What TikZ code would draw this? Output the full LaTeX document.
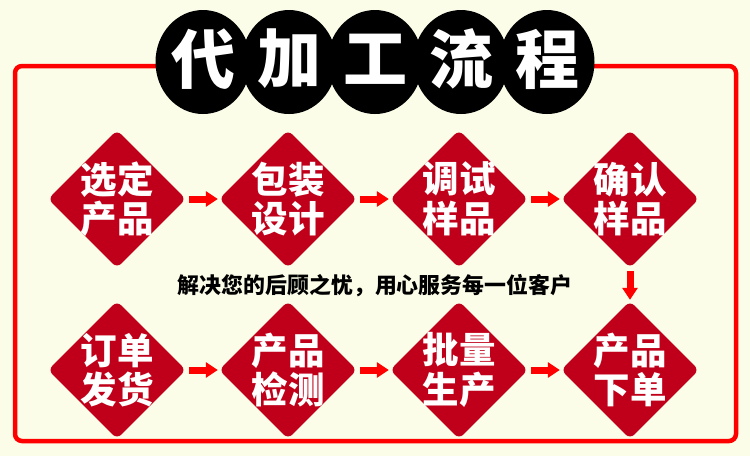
\documentclass[tikz,border=0pt]{standalone}
\usepackage{fontspec}
\newfontfamily\cjk{Noto Sans CJK SC}
\usetikzlibrary{shapes.geometric,arrows.meta}
\definecolor{bg}{HTML}{FCFDE8}
\definecolor{dred}{HTML}{C0001A}
\definecolor{fred}{HTML}{FF0000}
\tikzset{
  stepbox/.style={diamond, fill=dred, minimum width=138pt, minimum height=138pt, inner sep=0pt, rounded corners=6pt, aspect=1},
  steptext/.style={text=white, align=center, font=\cjk\bfseries\fontsize{36.5}{39.5}\selectfont, inner sep=0pt},
  flowarrow/.style={draw=fred, line width=7pt, -{Triangle[width=15pt,length=12pt]}, shorten <=3pt, shorten >=1pt},
  titleball/.style={ellipse, fill=black, minimum width=95pt, minimum height=104pt, inner sep=0pt},
  titlechar/.style={text=white, font=\cjk\bfseries\fontsize{64}{64}\selectfont, inner sep=0pt}
}
\begin{document}
\begin{tikzpicture}[x=1pt,y=-1pt]
\useasboundingbox (0,0) rectangle (750,456);
\fill[bg] (0,0) rectangle (750,456);
% frame
\draw[fred, line width=4.5pt, rounded corners=7pt] (15,66) rectangle (736,441);
% title
\foreach \i in {0,1,2,3,4}{
  \node[titleball] (t\i) at (203+86*\i,62) {};
}
\foreach \i/\c in {0/代,1/加,2/工,3/流,4/程}{
  \node[titlechar] (tc\i) at (203+86*\i,59) {\c};
}
% top row
\node[stepbox] (a1) at (117,199) {};
\node[stepbox] (a2) at (288,199) {};
\node[stepbox] (a3) at (459,199) {};
\node[stepbox] (a4) at (630,199) {};
% bottom row
\node[stepbox] (b1) at (117,370) {};
\node[stepbox] (b2) at (288,370) {};
\node[stepbox] (b3) at (459,370) {};
\node[stepbox] (b4) at (630,370) {};
% texts
\node[steptext] (ta1) at (a1.center) {选定\\产品};
\node[steptext] (ta2) at (a2.center) {包装\\设计};
\node[steptext] (ta3) at (a3.center) {调试\\样品};
\node[steptext] (ta4) at (a4.center) {确认\\样品};
\node[steptext] (tb1) at (b1.center) {订单\\发货};
\node[steptext] (tb2) at (b2.center) {产品\\检测};
\node[steptext] (tb3) at (b3.center) {批量\\生产};
\node[steptext] (tb4) at (b4.center) {产品\\下单};
% arrows
\draw[flowarrow] (a1.east) -- (a2.west);
\draw[flowarrow] (a2.east) -- (a3.west);
\draw[flowarrow] (a3.east) -- (a4.west);
\draw[flowarrow] (a4.south) -- (b4.north);
\draw[flowarrow] (b1.east) -- (b2.west);
\draw[flowarrow] (b2.east) -- (b3.west);
\draw[flowarrow] (b3.east) -- (b4.west);
% slogan
\node[font=\cjk\bfseries\fontsize{21.9}{22}\selectfont, inner sep=0pt] (slogan) at (375,286) {解决您的后顾之忧，用心服务每一位客户};
\end{tikzpicture}
\end{document}
